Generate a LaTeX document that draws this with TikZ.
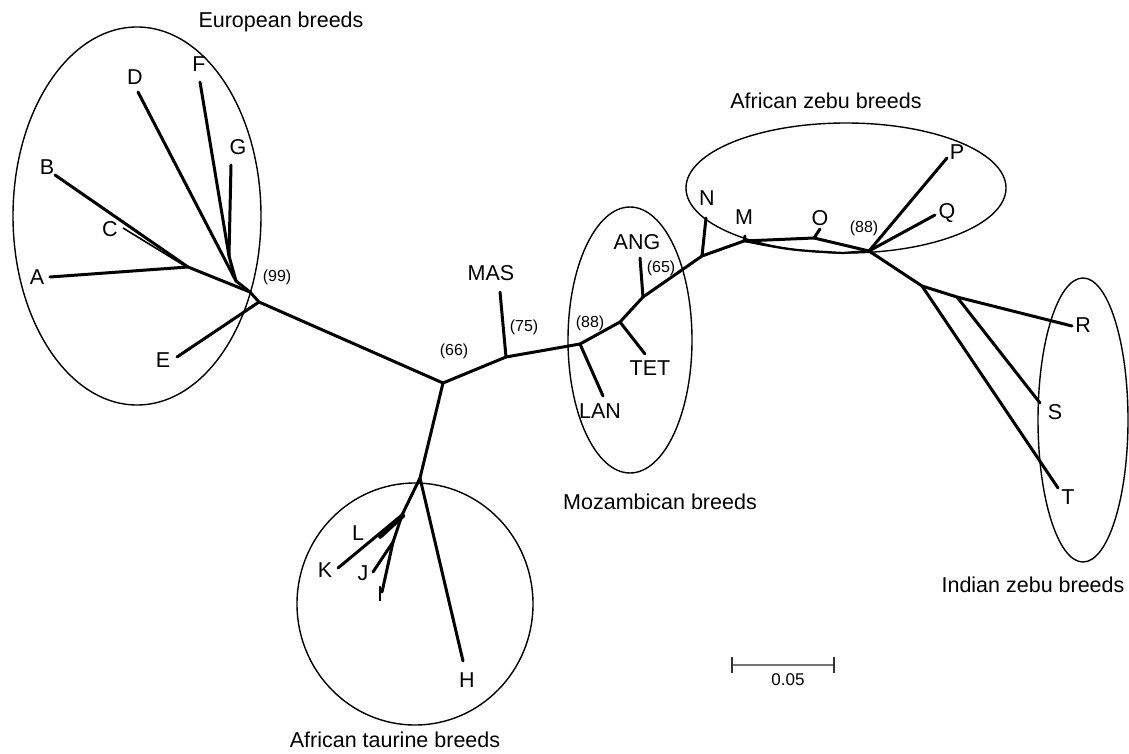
\documentclass[tikz,border=0pt]{standalone}
\usepackage{fontspec}
\setmainfont{Liberation Sans}
\begin{document}
\begin{tikzpicture}[x=0.5pt,y=-0.5pt,
  br/.style={line width=1.5pt, line cap=round, line join=round},
  grp/.style={line width=0.7pt},
  lab/.style={font=\fontsize{10.75}{12}\selectfont, inner sep=0pt},
  boot/.style={font=\fontsize{8}{9}\selectfont, inner sep=0pt}]
\useasboundingbox (0,0) rectangle (1129,754);

% group ellipses
\draw[grp] (137,216) ellipse [x radius=124, y radius=189];
\draw[grp] (415,604) ellipse [x radius=118, y radius=121];
\draw[grp] (630,340) ellipse [x radius=62, y radius=133];
\draw[grp] (846,188) ellipse [x radius=160, y radius=65];
\draw[grp] (1083,420) ellipse [x radius=45, y radius=142];

% internal nodes
\coordinate (n99) at (250,292);
\coordinate (nE) at (259,302);
\coordinate (nABC) at (188,267);
\coordinate (nDFG) at (236,281);
\coordinate (nFG) at (229,256);
\coordinate (root) at (443,383);
\coordinate (nTaur) at (420,478);
\coordinate (nLK) at (402,515);
\coordinate (nJI) at (393,542);
\coordinate (nMAS) at (506,357);
\coordinate (nLAN) at (580,344);
\coordinate (nTET) at (620,322);
\coordinate (nANG) at (643,297);
\coordinate (nN) at (702,256);
\coordinate (nM) at (744,241);
\coordinate (nO) at (814,238);
\coordinate (nLow) at (843,253);
\coordinate (n88) at (869,251);
\coordinate (nInd) at (922,286);
\coordinate (nS) at (957,297);

% leaf ends
\coordinate (eA) at (50,277);
\coordinate (eB) at (55,175);
\coordinate (eC) at (123,228);
\coordinate (eC2) at (185,266);
\coordinate (eD) at (138,92);
\coordinate (eE) at (177,357);
\coordinate (eF) at (200,82);
\coordinate (eG) at (231,165);
\coordinate (eH) at (463,661);
\coordinate (eK) at (338,568);
\coordinate (eL) at (379,536);
\coordinate (eJ) at (373,572);
\coordinate (eI) at (382,592);
\coordinate (eMAS) at (500,292);
\coordinate (eLAN) at (603,396);
\coordinate (eTET) at (645,354);
\coordinate (eANG) at (640,258);
\coordinate (eN) at (706,218);
\coordinate (eM) at (745,236);
\coordinate (eO) at (820,229);
\coordinate (eP) at (947,158);
\coordinate (eQ) at (935,215);
\coordinate (eR) at (1072,326);
\coordinate (eS) at (1040,403);
\coordinate (eT) at (1058,488);

% European branches
\draw[br] (root) -- (nE) -- (n99);
\draw[br] (nE) -- (eE);
\draw[br] (n99) -- (nDFG) -- (eD);
\draw[br] (nDFG) -- (nFG) -- (eF);
\draw[br] (nFG) -- (eG);
\draw[br] (n99) -- (nABC) -- (eA);
\draw[br] (nABC) -- (eB);
\draw[line width=0.8pt] (eC) -- (eC2);
% African taurine
\draw[br] (root) -- (nTaur) -- (eH);
\draw[br] (nTaur) -- (nLK) -- (eK);
\draw[line width=2pt, line cap=round] ([xshift=0.6pt,yshift=-0.4pt]nLK) -- ([xshift=0.6pt,yshift=-0.4pt]eL);
\draw[br] (nLK) -- (nJI) -- (eJ);
\draw[br] (nJI) -- (eI);
% spine to Mozambican and zebu
\draw[br] (root) -- (nMAS) -- (nLAN) -- (nTET) -- (nANG) -- (nN) -- (nM) -- (nO) -- (n88);
\draw[line width=1.1pt, line cap=round, line join=round] (nM) .. controls (790,250) .. (nLow) -- (n88);
\draw[br] (nMAS) -- (eMAS);
\draw[br] (nLAN) -- (eLAN);
\draw[br] (nTET) -- (eTET);
\draw[br] (nANG) -- (eANG);
\draw[br] (nN) -- (eN);
\draw[br] (nM) -- (eM);
\draw[br] (nO) -- (eO);
\draw[br] (n88) -- (eP);
\draw[br] (n88) -- (eQ);
\draw[br] (n88) -- (nInd) -- (nS) -- (eR);
\draw[br] (nS) -- (eS);
\draw[br] (nInd) -- (eT);

% leaf labels
\node[lab] (lA) at (37,277) {A};
\node[lab] (lB) at (47,167) {B};
\node[lab] (lC) at (110,229) {C};
\node[lab] (lD) at (135,77) {D};
\node[lab] (lE) at (163,360) {E};
\node[lab] (lF) at (199,64) {F};
\node[lab] (lG) at (238,147) {G};
\node[lab] (lH) at (467,680) {H};
\node[lab] (lI) at (380,594) {I};
\node[lab] (lJ) at (363,573) {J};
\node[lab] (lK) at (325,570) {K};
\node[lab] (lL) at (358,533) {L};
\node[lab] (lMAS) at (491,273) {MAS};
\node[lab] (lLAN) at (600,411) {LAN};
\node[lab] (lTET) at (650,368) {TET};
\node[lab] (lANG) at (637,242) {ANG};
\node[lab] (lN) at (707,198) {N};
\node[lab] (lM) at (744,217) {M};
\node[lab] (lO) at (820,218) {O};
\node[lab] (lP) at (957,152) {P};
\node[lab] (lQ) at (947,213) {Q};
\node[lab] (lR) at (1083,325) {R};
\node[lab] (lS) at (1055,412) {S};
\node[lab] (lT) at (1068,497) {T};

% bootstrap values
\node[boot] (b99) at (277,277) {(99)};
\node[boot] (b66) at (454,351) {(66)};
\node[boot] (b75) at (524,327) {(75)};
\node[boot] (b88a) at (590,323) {(88)};
\node[boot] (b65) at (661,268) {(65)};
\node[boot] (b88b) at (864,228) {(88)};

% group labels
\node[lab] (gEur) at (281,22) {European breeds};
\node[lab] (gAZ) at (826,101) {African zebu breeds};
\node[lab] (gMoz) at (660,502) {Mozambican breeds};
\node[lab] (gInd) at (1033,585) {Indian zebu breeds};
\node[lab] (gTaur) at (395,740) {African taurine breeds};

% scale bar
\coordinate (sL) at (732,665);
\coordinate (sR) at (834,665);
\draw[line width=1.3pt, black!55] (sL) -- (sR);
\draw[line width=1pt, black!80] ([yshift=4pt]sL) -- ([yshift=-4pt]sL);
\draw[line width=1pt, black!80] ([yshift=4pt]sR) -- ([yshift=-4pt]sR);
\node[boot, font=\fontsize{8.5}{10}\selectfont] (sLab) at (788,680) {0.05};
\end{tikzpicture}
\end{document}
